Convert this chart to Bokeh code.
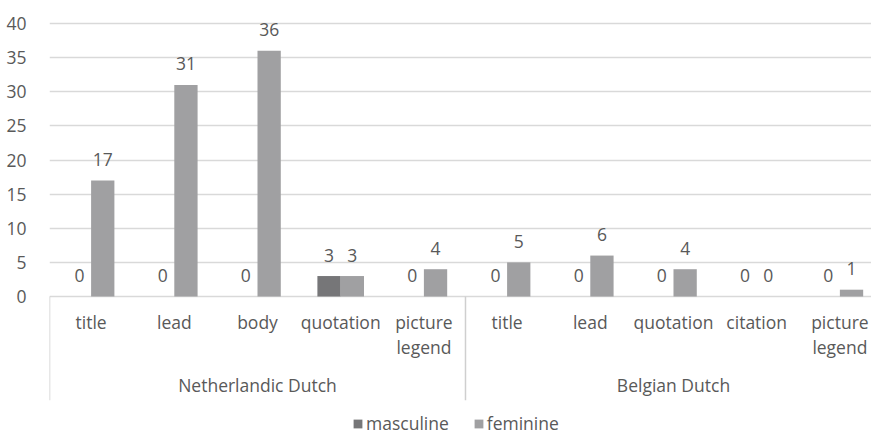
from bokeh.plotting import figure
from bokeh.models import Range1d, FixedTicker, ColumnDataSource, Legend, LegendItem
from bokeh.core.properties import value
from bokeh.embed import file_html
from bokeh.resources import INLINE

# Counts of masculine / feminine forms per text part, by variety of Dutch
groups = ["Netherlandic Dutch", "Belgian Dutch"]
group_sizes = [5, 5]
parts = ["title", "lead", "body", "quotation", "picture\nlegend",
         "title", "lead", "quotation", "citation", "picture\nlegend"]
masculine = [0, 0, 0, 3, 0, 0, 0, 0, 0, 0]
feminine = [17, 31, 36, 3, 4, 5, 6, 4, 0, 1]
y_ticks = [0, 5, 10, 15, 20, 25, 30, 35, 40]

FONT = "Open Sans"
TEXT = "#595959"
FS = "17.5px"
C_MASC = "#767678"
C_FEM = "#a0a0a2"
BAR_W = 0.28

n = len(parts)
centers = [i + 0.5 for i in range(n)]
x_m = [c - BAR_W / 2 for c in centers]
x_f = [c + BAR_W / 2 for c in centers]

src = ColumnDataSource(dict(
    xc=centers, xm=x_m, xf=x_f, m=masculine, f=feminine,
    ml=[str(v) for v in masculine], fl=[str(v) for v in feminine],
    part=parts,
))

p = figure(width=871, height=436, output_backend="svg", toolbar_location=None,
           x_range=Range1d(0, 9.88), y_range=Range1d(-20.51, 43.37),
           min_border_left=49, min_border_right=0, min_border_top=0, min_border_bottom=0,
           outline_line_color=None, background_fill_color="white", border_fill_color="white")

p.xaxis.visible = False
p.xgrid.visible = False
p.yaxis.ticker = FixedTicker(ticks=y_ticks)
p.yaxis.axis_line_color = None
p.yaxis.major_tick_line_color = None
p.yaxis.minor_tick_line_color = None
p.yaxis.major_label_text_font = FONT
p.yaxis.major_label_text_font_size = FS
p.yaxis.major_label_text_color = TEXT
p.yaxis.major_label_standoff = 17
p.ygrid.ticker = FixedTicker(ticks=y_ticks)
p.ygrid.grid_line_color = "#d9d9d9"
p.ygrid.grid_line_width = 1.5

# Separators of the category axis: group boundaries
bounds = [0]
for s in group_sizes:
    bounds.append(bounds[-1] + s)
p.segment(x0=bounds, y0=[0] * len(bounds), x1=bounds, y1=[-15.2] * len(bounds),
          line_color="#cfcfcf", line_width=1.5)

rm = p.vbar(x="xm", top="m", width=BAR_W, source=src, fill_color=C_MASC, line_color=None)
rf = p.vbar(x="xf", top="f", width=BAR_W, source=src, fill_color=C_FEM, line_color=None)

# Value labels above the bars
p.text(x="xm", y="m", text="ml", source=src, text_align="center", text_baseline="alphabetic",
       y_offset=-21, text_font=value(FONT), text_font_size=FS, text_color=TEXT)
p.text(x="xf", y="f", text="fl", source=src, text_align="center", text_baseline="alphabetic",
       y_offset=-21, text_font=value(FONT), text_font_size=FS, text_color=TEXT)

# Category labels
p.text(x="xc", y=0, text="part", source=src, text_align="center", text_baseline="top",
       y_offset=13, text_font=value(FONT), text_font_size=FS, text_color=TEXT,
       text_line_height=1.05)

# Group labels
gx = [(bounds[i] + bounds[i + 1]) / 2 for i in range(len(groups))]
p.text(x=gx, y=[0] * len(groups), text=groups, text_align="center", text_baseline="middle",
       y_offset=88, text_font=value(FONT), text_font_size=FS, text_color=TEXT)

legend = Legend(items=[LegendItem(label="masculine", renderers=[rm]),
                       LegendItem(label="feminine", renderers=[rf])],
                orientation="horizontal", location=(303, 1),
                glyph_width=11, glyph_height=11, label_height=16, label_standoff=3,
                spacing=24, padding=0, margin=0,
                border_line_color=None, background_fill_alpha=0,
                label_text_font=FONT, label_text_font_size=FS, label_text_color=TEXT)
p.add_layout(legend, "center")

open("out.html", "w").write(file_html(p, INLINE))
